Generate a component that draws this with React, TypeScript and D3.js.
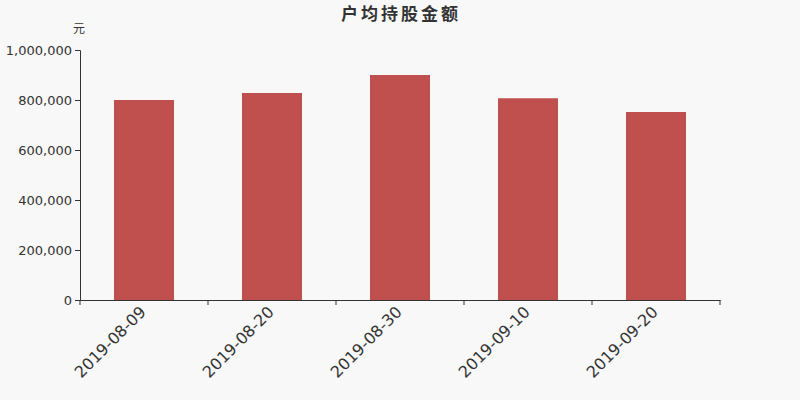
import React, { useEffect, useRef } from 'react';
import * as d3 from 'd3';

const dates = ['2019-08-09', '2019-08-20', '2019-08-30', '2019-09-10', '2019-09-20'];
const amounts = [800000, 828000, 900000, 807000, 752000];
const yTicks = [0, 200000, 400000, 600000, 800000, 1000000];

const App: React.FC = () => {
  const svgRef = useRef<SVGSVGElement>(null);

  useEffect(() => {
    if (!svgRef.current) return;
    const svg = d3.select(svgRef.current);
    svg.selectAll('*').remove();

    const width = 800;
    const height = 400;
    const margin = { top: 50, right: 80, bottom: 100, left: 80 };
    const font = '"DejaVu Sans", "Noto Sans CJK SC", sans-serif';

    svg.append('rect').attr('width', width).attr('height', height).attr('fill', '#f8f8f8');

    const x = d3.scaleBand<string>()
      .domain(dates)
      .range([margin.left, width - margin.right]);

    const y = d3.scaleLinear()
      .domain([0, 1000000])
      .range([height - margin.bottom, margin.top]);

    svg.append('text')
      .attr('x', width / 2 + 1)
      .attr('y', 20)
      .attr('text-anchor', 'middle')
      .attr('font-family', font)
      .attr('font-size', 17)
      .attr('letter-spacing', 3)
      .attr('font-weight', 'bold')
      .attr('fill', '#333')
      .text('户均持股金额');

    svg.append('text')
      .attr('x', 79)
      .attr('y', 33)
      .attr('text-anchor', 'middle')
      .attr('font-family', font)
      .attr('font-size', 12)
      .attr('fill', '#333')
      .text('元');

    const barWidth = 60;
    svg.append('g')
      .selectAll('rect')
      .data(amounts)
      .enter()
      .append('rect')
      .attr('x', (_: number, i: number) => (x(dates[i]) as number) + x.bandwidth() / 2 - barWidth / 2)
      .attr('y', (d: number) => y(d))
      .attr('width', barWidth)
      .attr('height', (d: number) => y(0) - y(d))
      .attr('fill', '#c0504d');

    const yAxis = svg.append('g')
      .attr('transform', `translate(${margin.left},0)`)
      .call(d3.axisLeft(y).tickValues(yTicks).tickSize(5).tickPadding(3).tickFormat(d3.format(',')));
    yAxis.select('.domain').attr('stroke', '#333');
    yAxis.selectAll('.tick line').attr('stroke', '#333');
    yAxis.selectAll('.tick text')
      .attr('fill', '#333')
      .attr('font-size', 13)
      .attr('font-family', font);

    const xAxis = svg.append('g')
      .attr('transform', `translate(0,${height - margin.bottom})`)
      .call(d3.axisBottom(x).tickSize(0).tickSizeOuter(0));
    xAxis.select('.domain').attr('stroke', '#333');
    xAxis.selectAll('.tick text')
      .attr('fill', '#333')
      .attr('font-size', 16)
      .attr('font-family', font)
      .attr('text-anchor', 'end')
      .attr('dy', null)
      .attr('y', 0)
      .attr('transform', 'translate(3,13) rotate(-45)');

    const boundaries = dates.map((d) => x(d) as number).concat([width - margin.right]);
    svg.append('g')
      .selectAll('line')
      .data(boundaries)
      .enter()
      .append('line')
      .attr('x1', (d: number) => d)
      .attr('x2', (d: number) => d)
      .attr('y1', height - margin.bottom)
      .attr('y2', height - margin.bottom + 5)
      .attr('stroke', '#333');
  }, []);

  return (
    <div style={{ position: 'absolute', left: 0, top: 0, width: 800, height: 400 }}>
      <svg ref={svgRef} width={800} height={400} style={{ display: 'block' }} />
    </div>
  );
};

export default App;
